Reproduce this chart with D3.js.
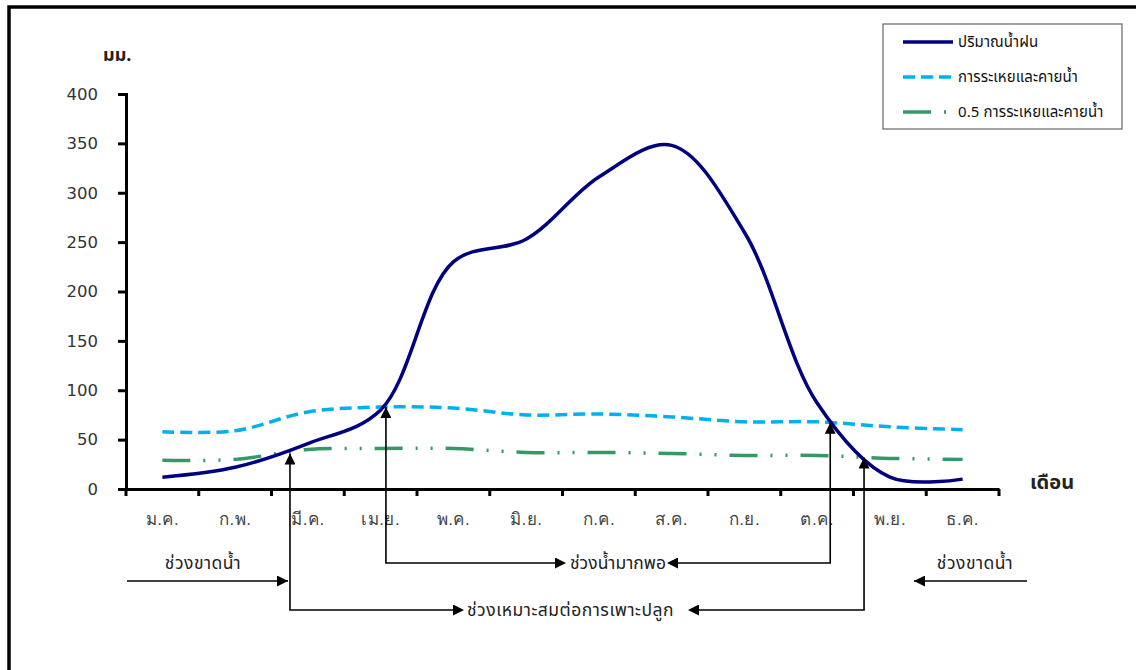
<!DOCTYPE html>
<html><head><meta charset="utf-8">
<script src="https://cdn.jsdelivr.net/npm/d3@7"></script>
<style>
body{margin:0;background:#fff;}
svg{display:block;font-family:Tahoma,"Noto Sans Thai","Noto Sans","DejaVu Sans",sans-serif;}
</style></head><body>
<svg id="c" width="1136" height="670"></svg>
<script>
const months = ["ม.ค.","ก.พ.","มี.ค.","เม.ย.","พ.ค.","มิ.ย.","ก.ค.","ส.ค.","ก.ย.","ต.ค.","พ.ย.","ธ.ค."];
const rainfall = [12, 22, 46, 80, 230, 253, 316, 348, 260, 87, 12, 10];
const et = [58, 59, 78, 83, 82, 75, 76, 73, 68, 68, 63, 60];
const halfEt = [29, 30, 40, 41, 41, 37, 37, 36, 34, 34, 31, 30];
const yTicks = [0, 50, 100, 150, 200, 250, 300, 350, 400];
const seriesNames = ["ปริมาณน้ำฝน", "การระเหยและคายน้ำ", "0.5 การระเหยและคายน้ำ"];
// crossing points (fractional month index, value)
const crossings = [
  {m: 1.754, v: 37, row: 2},
  {m: 3.073, v: 84, row: 1},
  {m: 9.18, v: 68, row: 1},
  {m: 9.645, v: 33, row: 2}
];
const labelAxisY = "มม.";
const labelAxisX = "เดือน";
const periodLabels = {dry: "ช่วงขาดน้ำ", wet: "ช่วงน้ำมากพอ", grow: "ช่วงเหมาะสมต่อการเพาะปลูก"};

const svg = d3.select("#c");
const x = d3.scaleBand().domain(months).range([126, 999]);
const xi = d3.scaleLinear().domain([0, 11]).range([x(months[0]) + x.bandwidth()/2, x(months[11]) + x.bandwidth()/2]);
const y = d3.scaleLinear().domain([0, 400]).range([489, 94]);

// frame
svg.append("rect").attr("x", 9).attr("y", 7).attr("width", 1200).attr("height", 700)
  .attr("fill", "none").attr("stroke", "#000").attr("stroke-width", 3.5);

// Y axis
const yAxis = svg.append("g").attr("transform", "translate(126,0)")
  .call(d3.axisLeft(y).tickValues(yTicks).tickSize(8).tickPadding(20));
yAxis.select(".domain").attr("stroke-width", 3);
yAxis.selectAll(".tick line").attr("stroke-width", 3);
yAxis.selectAll("text").attr("font-size", 16.5).attr("fill", "#333").attr("font-family", "Verdana,'DejaVu Sans',sans-serif");

// X axis
const xAxis = svg.append("g").attr("transform", "translate(0,489)")
  .call(d3.axisBottom(x).tickSize(0).tickPadding(24));
xAxis.select(".domain").attr("stroke-width", 3);
xAxis.selectAll("text").attr("font-size", 17).attr("fill", "#444").attr("letter-spacing", 0.5);
svg.append("g").selectAll("line").data(d3.range(13)).join("line")
  .attr("x1", i => 126 + i * x.step()).attr("x2", i => 126 + i * x.step())
  .attr("y1", 489).attr("y2", 496).attr("stroke", "#000").attr("stroke-width", 3);

svg.append("text").attr("x", 103).attr("y", 61).attr("font-size", 18).attr("font-weight", "bold").attr("fill", "#222").text(labelAxisY);
svg.append("text").attr("x", 1030).attr("y", 489).attr("font-size", 20).attr("font-weight", "bold").attr("fill", "#222").text(labelAxisX);

const line = d3.line().x((d, i) => xi(i)).y(d => y(d)).curve(d3.curveCatmullRom.alpha(0.5));

svg.append("path").attr("d", line(et)).attr("fill", "none").attr("stroke", "#00b0f0")
  .attr("stroke-width", 3.5).attr("stroke-dasharray", "12,6");
svg.append("path").attr("d", line(halfEt)).attr("fill", "none").attr("stroke", "#339966")
  .attr("stroke-width", 3.5).attr("stroke-dasharray", "28,13,2,13,2,13");
svg.append("path").attr("d", line(rainfall)).attr("fill", "none").attr("stroke", "#000080")
  .attr("stroke-width", 3.5);

// arrow markers
const defs = svg.append("defs");
defs.append("marker").attr("id", "ah").attr("viewBox", "0 0 10 10").attr("refX", 10).attr("refY", 5)
  .attr("markerWidth", 12).attr("markerHeight", 11).attr("markerUnits", "userSpaceOnUse").attr("orient", "auto")
  .append("path").attr("d", "M0,0 L10,5 L0,10 Z").attr("fill", "#000");
defs.append("marker").attr("id", "ahs").attr("viewBox", "0 0 10 10").attr("refX", 0).attr("refY", 5)
  .attr("markerWidth", 12).attr("markerHeight", 11).attr("markerUnits", "userSpaceOnUse").attr("orient", "auto-start-reverse")
  .append("path").attr("d", "M0,0 L10,5 L0,10 Z").attr("fill", "#000");

const rowY = {1: 563, 2: 610};
const arrowEnds = [453, 555, 678, 699];
const ann = svg.append("g").attr("stroke", "#000").attr("stroke-width", 1.6).attr("fill", "none");
crossings.forEach((c, k) => {
  const cx = xi(c.m);
  ann.append("path").attr("d", `M${arrowEnds[k]},${rowY[c.row]} L${cx},${rowY[c.row]} L${cx},${y(c.v) + 1}`)
    .attr("marker-start", "url(#ahs)").attr("marker-end", "url(#ah)");
});
// dry arrows
ann.append("line").attr("x1", 127).attr("y1", 581).attr("x2", 288).attr("y2", 581).attr("marker-end", "url(#ah)");
ann.append("line").attr("x1", 1027).attr("y1", 581).attr("x2", 914).attr("y2", 581).attr("marker-end", "url(#ah)");

const tg = svg.append("g").attr("font-size", 17.5).attr("letter-spacing", 0.5).attr("fill", "#222");
tg.append("text").attr("x", 203).attr("y", 569).attr("text-anchor", "middle").text(periodLabels.dry);
tg.append("text").attr("x", 975).attr("y", 569).attr("text-anchor", "middle").text(periodLabels.dry);
tg.append("text").attr("x", 570).attr("y", 569).attr("letter-spacing", 0).text(periodLabels.wet);
tg.append("text").attr("x", 467).attr("y", 616).text(periodLabels.grow);

// legend
const lg = svg.append("g");
lg.append("rect").attr("x", 883).attr("y", 24).attr("width", 239).attr("height", 105)
  .attr("fill", "#fff").attr("stroke", "#666").attr("stroke-width", 1.2);
const legendStyles = [
  {stroke: "#000080", dash: null},
  {stroke: "#00b0f0", dash: "12,6"},
  {stroke: "#339966", dash: "28,13,2,13,2,13"}
];
seriesNames.forEach((n, i) => {
  const ly = 42 + i * 35;
  lg.append("line").attr("x1", 903).attr("x2", 953).attr("y1", ly).attr("y2", ly)
    .attr("stroke", legendStyles[i].stroke).attr("stroke-width", 3.5).attr("stroke-dasharray", legendStyles[i].dash);
  lg.append("text").attr("x", 958).attr("y", ly + 5).attr("font-size", 15).attr("letter-spacing", 0.1).attr("fill", "#111").text(n);
});
</script></body></html>
